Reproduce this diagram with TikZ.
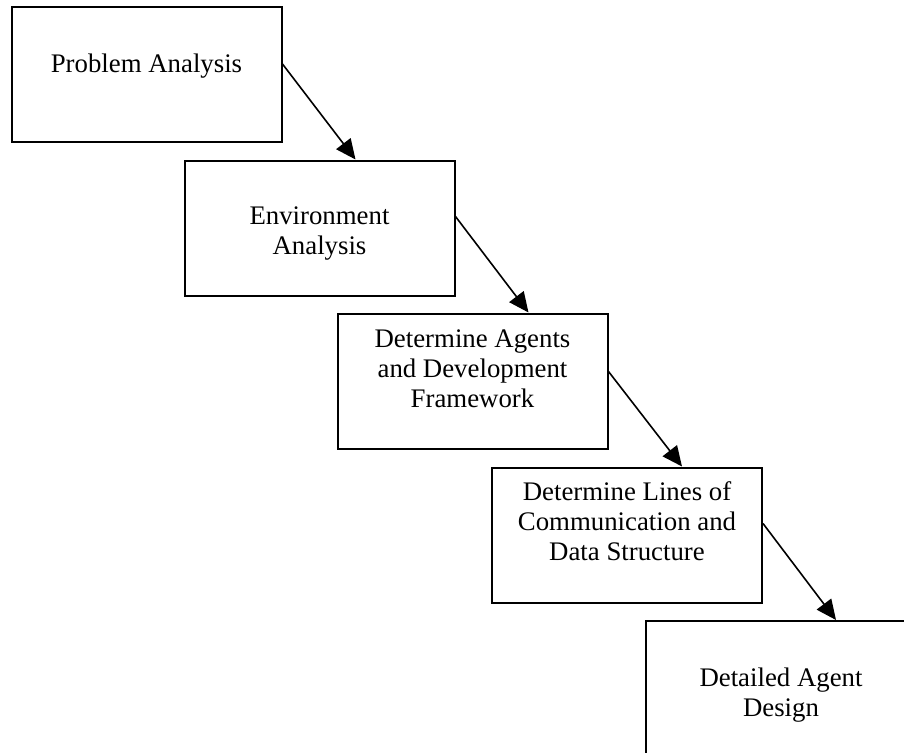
\documentclass[tikz,border=0pt]{standalone}
\usepackage{fontspec}
\setmainfont{Liberation Serif}
\usetikzlibrary{arrows.meta,calc}
\tikzset{
  stage/.style={draw, line width=2pt, minimum width=270pt, minimum height=135pt, inner sep=0pt},
  stagetext/.style={anchor=north, inner sep=0pt, align=center, font=\fontsize{26.8}{30}\selectfont},
  flow/.style={line width=1.6pt, -{Triangle[length=20pt,width=18pt]}}
}
\begin{document}
\begin{tikzpicture}[x=1pt,y=-1pt]
  \clip (0,0) rectangle (904,752);
  \fill[white] (0,0) rectangle (904,752);

  % process stages
  \node[stage] (b1) at (146.5,74.5) {};
  \node[stage] (b2) at (319.5,228) {};
  \node[stage] (b3) at (472.5,381) {};
  \node[stage] (b4) at (627,535) {};
  \node[stage] (b5) at (781,688.5) {};

  % stage labels
  \node[stagetext] (t1) at ($(b1.north)+(0,45)$) {\strut Problem Analysis};
  \node[stagetext] (t2) at ($(b2.north)+(0,44)$) {\strut Environment\\\strut Analysis};
  \node[stagetext] (t3) at ($(b3.north)+(0,14)$) {\strut Determine Agents\\\strut and Development\\\strut Framework};
  \node[stagetext] (t4) at ($(b4.north)+(0,13)$) {\strut Determine Lines of\\\strut Communication and\\\strut Data Structure};
  \node[stagetext] (t5) at ($(b5.north)+(0,45)$) {\strut Detailed Agent\\\strut Design};

  % flow between stages
  \draw[flow] ($(b1.north east)+(0,58)$) -- ($(b2.north west)+(172,0)$);
  \draw[flow] ($(b2.north east)+(0,57)$) -- ($(b3.north west)+(192,0)$);
  \draw[flow] ($(b3.north east)+(0,59)$) -- ($(b4.north west)+(191,0)$);
  \draw[flow] ($(b4.north east)+(0,57)$) -- ($(b5.north west)+(191,0)$);
\end{tikzpicture}
\end{document}
